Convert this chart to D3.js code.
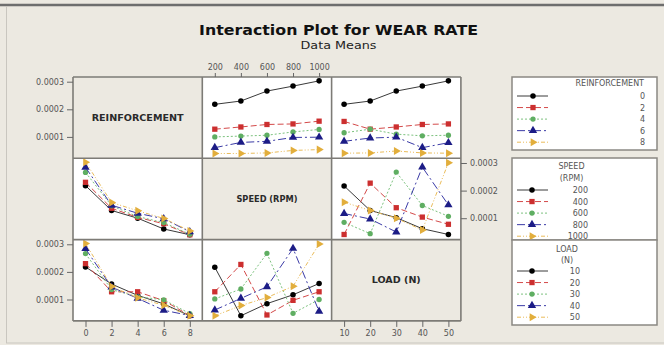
<!DOCTYPE html>
<html>
<head>
<meta charset="utf-8">
<script src="https://cdn.jsdelivr.net/npm/d3@7"></script>
<style>
  html, body { margin: 0; padding: 0; background: #ece9e1; }
  svg { display: block; }
</style>
</head>
<body>
<div id="chart"></div>
<script>
// Factor levels
const reinforcementLevels = [0, 2, 4, 6, 8];
const speedLevels = [200, 400, 600, 800, 1000];
const loadLevels = [10, 20, 30, 40, 50];

// Cell means of wear rate, rows = first factor, cols = second factor
const reinfBySpeed = [
    [2.18e-4, 2.30e-4, 2.66e-4, 2.84e-4, 3.03e-4],
    [1.28e-4, 1.36e-4, 1.45e-4, 1.47e-4, 1.57e-4],
    [1.00e-4, 1.03e-4, 1.06e-4, 1.18e-4, 1.27e-4],
    [0.61e-4, 0.80e-4, 0.84e-4, 0.98e-4, 0.99e-4],
    [0.40e-4, 0.40e-4, 0.42e-4, 0.51e-4, 0.54e-4],
];
const reinfByLoad = [
    [2.18e-4, 2.30e-4, 2.66e-4, 2.84e-4, 3.03e-4],
    [1.56e-4, 1.28e-4, 1.36e-4, 1.45e-4, 1.47e-4],
    [1.15e-4, 1.28e-4, 1.10e-4, 1.04e-4, 1.06e-4],
    [0.84e-4, 0.96e-4, 0.99e-4, 0.61e-4, 0.79e-4],
    [0.41e-4, 0.42e-4, 0.49e-4, 0.42e-4, 0.41e-4],
];
const speedByLoad = [
    [2.17e-4, 1.28e-4, 1.02e-4, 0.62e-4, 0.41e-4],
    [0.41e-4, 2.27e-4, 1.38e-4, 1.04e-4, 0.78e-4],
    [0.85e-4, 0.44e-4, 2.67e-4, 1.46e-4, 1.07e-4],
    [1.17e-4, 0.97e-4, 0.50e-4, 2.85e-4, 1.48e-4],
    [1.58e-4, 1.28e-4, 1.00e-4, 0.57e-4, 3.01e-4],
];

const yTicks = [0.0001, 0.0002, 0.0003];
const factorNames = ['REINFORCEMENT', 'SPEED (RPM)', 'LOAD (N)'];
const legendTitles = [['REINFORCEMENT'], ['SPEED', '(RPM)'], ['LOAD', '(N)']];

//Helpers
const translate = (x, y) => `translate(${x}, ${y})`;
const transpose = m => m[0].map((_, j) => m.map(row => row[j]));

const W = 664, H = 345;
const bg = '#ece9e1';
const gridLeft = 73, gridTop = 77;
const cellW = 129.3, cellH = 81.3;
const xPad = 12.5;
const levels = [reinforcementLevels, speedLevels, loadLevels];
const nameWidths = [92, 61, 49];

// series styles (Minitab defaults)
const seriesStyle = [
    { color: '#000000', line: '#3a3a3a', dash: null, symbol: d3.symbolCircle, size: 24, rot: 0 },
    { color: '#cc2f2f', line: '#d44a4a', dash: '6,3', symbol: d3.symbolSquare, size: 28, rot: 0 },
    { color: '#5fae62', line: '#7cc27e', dash: '2,2', symbol: d3.symbolCircle, size: 22, rot: 0 },
    { color: '#1c1c86', line: '#3a3aa6', dash: '8,3,2,3', symbol: d3.symbolTriangle, size: 30, rot: 0 },
    { color: '#e2ae3c', line: '#eabc5a', dash: '4,2,1,2,1,2', symbol: d3.symbolTriangle, size: 28, rot: 90 },
];

// means[r][c] -> matrix [line level][x level]
const getMeans = (r, c) => {
    if (r === 0 && c === 1) return reinfBySpeed;
    if (r === 1 && c === 0) return transpose(reinfBySpeed);
    if (r === 0 && c === 2) return reinfByLoad;
    if (r === 2 && c === 0) return transpose(reinfByLoad);
    if (r === 1 && c === 2) return speedByLoad;
    return transpose(speedByLoad);
};

const svg = d3.select('#chart').append('svg')
    .attr('width', W)
    .attr('height', H)
    .style('font-family', '"DejaVu Sans", sans-serif');

svg.append('rect')
    .attr('width', W)
    .attr('height', H)
    .attr('fill', bg);

// window frame
svg.append('line')
    .attr('x1', 0).attr('x2', W).attr('y1', 5).attr('y2', 5)
    .attr('stroke', '#6e6e6e').attr('stroke-width', 2.5);
svg.append('line')
    .attr('x1', 6.5).attr('x2', 6.5).attr('y1', 6).attr('y2', 343)
    .attr('stroke', '#c9c6bf').attr('stroke-width', 1);
svg.append('line')
    .attr('x1', 6).attr('x2', W).attr('y1', 343).attr('y2', 343)
    .attr('stroke', '#c9c6bf').attr('stroke-width', 1);

// Titles
svg.append('text')
    .text('Interaction Plot for WEAR RATE')
    .attr('x', 338.5).attr('y', 35)
    .attr('text-anchor', 'middle')
    .attr('font-weight', 'bold')
    .attr('font-size', 14)
    .attr('textLength', 279)
    .attr('lengthAdjust', 'spacingAndGlyphs')
    .attr('fill', '#111');
svg.append('text')
    .text('Data Means')
    .attr('x', 338.5).attr('y', 49)
    .attr('text-anchor', 'middle')
    .attr('font-size', 11)
    .attr('textLength', 76)
    .attr('lengthAdjust', 'spacingAndGlyphs')
    .attr('fill', '#222');

// Scales
const xScales = levels.map((lv, c) => d3.scaleLinear()
    .domain(d3.extent(lv))
    .range([gridLeft + c * cellW + xPad, gridLeft + (c + 1) * cellW - xPad]));
const yScales = [0, 1, 2].map(r => d3.scaleLinear()
    .domain([0.0000225, 0.000317])
    .range([gridTop + (r + 1) * cellH, gridTop + r * cellH]));

const drawMarker = (g, s, x, y) => {
    g.append('path')
        .attr('d', d3.symbol().type(s.symbol).size(s.size)())
        .attr('transform', `${translate(x, y)} rotate(${s.rot})`)
        .attr('fill', s.color);
};

// Panels
for (let r = 0; r < 3; r++) {
    for (let c = 0; c < 3; c++) {
        const px = gridLeft + c * cellW;
        const py = gridTop + r * cellH;
        const panel = svg.append('g').attr('class', `panel p${r}${c}`);
        panel.append('rect')
            .attr('x', px).attr('y', py)
            .attr('width', cellW).attr('height', cellH)
            .attr('fill', r === c ? bg : '#fff');

        if (r === c) {
            panel.append('text')
                .text(factorNames[r])
                .attr('x', px + cellW / 2)
                .attr('y', py + cellH / 2 + 3)
                .attr('text-anchor', 'middle')
                .attr('font-weight', 'bold')
                .attr('font-size', 8)
                .attr('textLength', nameWidths[r])
                .attr('lengthAdjust', 'spacingAndGlyphs')
                .attr('fill', '#2a2a2a');
            continue;
        }

        const means = getMeans(r, c);
        const xs = xScales[c], ys = yScales[r];
        const line = d3.line()
            .x((d, i) => xs(levels[c][i]))
            .y(d => ys(d));
        means.forEach((row, k) => {
            const s = seriesStyle[k];
            panel.append('path')
                .attr('d', line(row))
                .attr('fill', 'none')
                .attr('stroke', s.line)
                .attr('stroke-width', 1)
                .attr('stroke-dasharray', s.dash);
            row.forEach((v, i) => drawMarker(panel, s, xs(levels[c][i]), ys(v)));
        });
    }
}

// Grid borders
const gridG = svg.append('g').attr('class', 'grid');
for (let i = 0; i <= 3; i++) {
    gridG.append('line')
        .attr('x1', gridLeft + i * cellW).attr('x2', gridLeft + i * cellW)
        .attr('y1', gridTop).attr('y2', gridTop + 3 * cellH);
    gridG.append('line')
        .attr('x1', gridLeft).attr('x2', gridLeft + 3 * cellW)
        .attr('y1', gridTop + i * cellH).attr('y2', gridTop + i * cellH);
}
gridG.selectAll('line')
    .attr('stroke', '#7d7b76')
    .attr('stroke-width', 1.6);

// Axes
const styleAxis = g => {
    g.select('.domain').remove();
    g.selectAll('line').attr('stroke', '#666');
    g.selectAll('text')
        .attr('fill', '#555')
        .attr('font-size', 8)
        .attr('font-family', '"DejaVu Sans", sans-serif');
};
const fmt = d3.format('.4f');
const intFmt = d3.format('d');

[0, 2].forEach(r => {
    svg.append('g')
        .attr('transform', translate(gridLeft, 0))
        .call(d3.axisLeft(yScales[r]).tickValues(yTicks).tickFormat(fmt).tickSize(6))
        .call(styleAxis);
});
svg.append('g')
    .attr('transform', translate(gridLeft + 3 * cellW, 0))
    .call(d3.axisRight(yScales[1]).tickValues(yTicks).tickFormat(fmt).tickSize(6))
    .call(styleAxis);
svg.append('g')
    .attr('transform', translate(0, gridTop))
    .call(d3.axisTop(xScales[1]).tickValues(speedLevels).tickFormat(intFmt).tickSize(4))
    .call(styleAxis);
[0, 2].forEach(c => {
    svg.append('g')
        .attr('transform', translate(0, gridTop + 3 * cellH))
        .call(d3.axisBottom(xScales[c]).tickValues(levels[c]).tickFormat(intFmt).tickSize(6))
        .call(styleAxis);
});

// Legends
const legendBoxes = [
    { y: 77, h: 73, titleX: 644, titleAnchor: 'end', titleY: [86], itemY: 96, labelX: 645, markX: 533 },
    { y: 158, h: 82, titleX: 571.5, titleAnchor: 'middle', titleY: [168.5, 180.5], itemY: 190, labelX: 588, markX: 532 },
    { y: 240, h: 85, titleX: 567, titleAnchor: 'middle', titleY: [251.5, 263], itemY: 271, labelX: 580, markX: 532 },
];
const legendStep = 11.55;
legendBoxes.forEach((b, f) => {
    const lg = svg.append('g').attr('class', 'legend');
    lg.append('rect')
        .attr('x', 512).attr('y', b.y)
        .attr('width', 145).attr('height', b.h)
        .attr('fill', '#fff')
        .attr('stroke', '#8a8883')
        .attr('stroke-width', 1.5);
    legendTitles[f].forEach((t, i) => {
        lg.append('text')
            .text(t)
            .attr('x', b.titleX).attr('y', b.titleY[i])
            .attr('text-anchor', b.titleAnchor)
            .attr('font-size', 8)
            .attr('fill', '#555');
    });
    levels[f].forEach((lv, k) => {
        const s = seriesStyle[k];
        const y = b.itemY + k * legendStep;
        lg.append('line')
            .attr('x1', 517).attr('x2', 548)
            .attr('y1', y).attr('y2', y)
            .attr('stroke', s.line)
            .attr('stroke-width', 1)
            .attr('stroke-dasharray', s.dash);
        drawMarker(lg, s, b.markX, y);
        lg.append('text')
            .text(lv)
            .attr('x', b.labelX).attr('y', y + 3)
            .attr('text-anchor', 'end')
            .attr('font-size', 8)
            .attr('fill', '#555');
    });
});
</script>
</body>
</html>
